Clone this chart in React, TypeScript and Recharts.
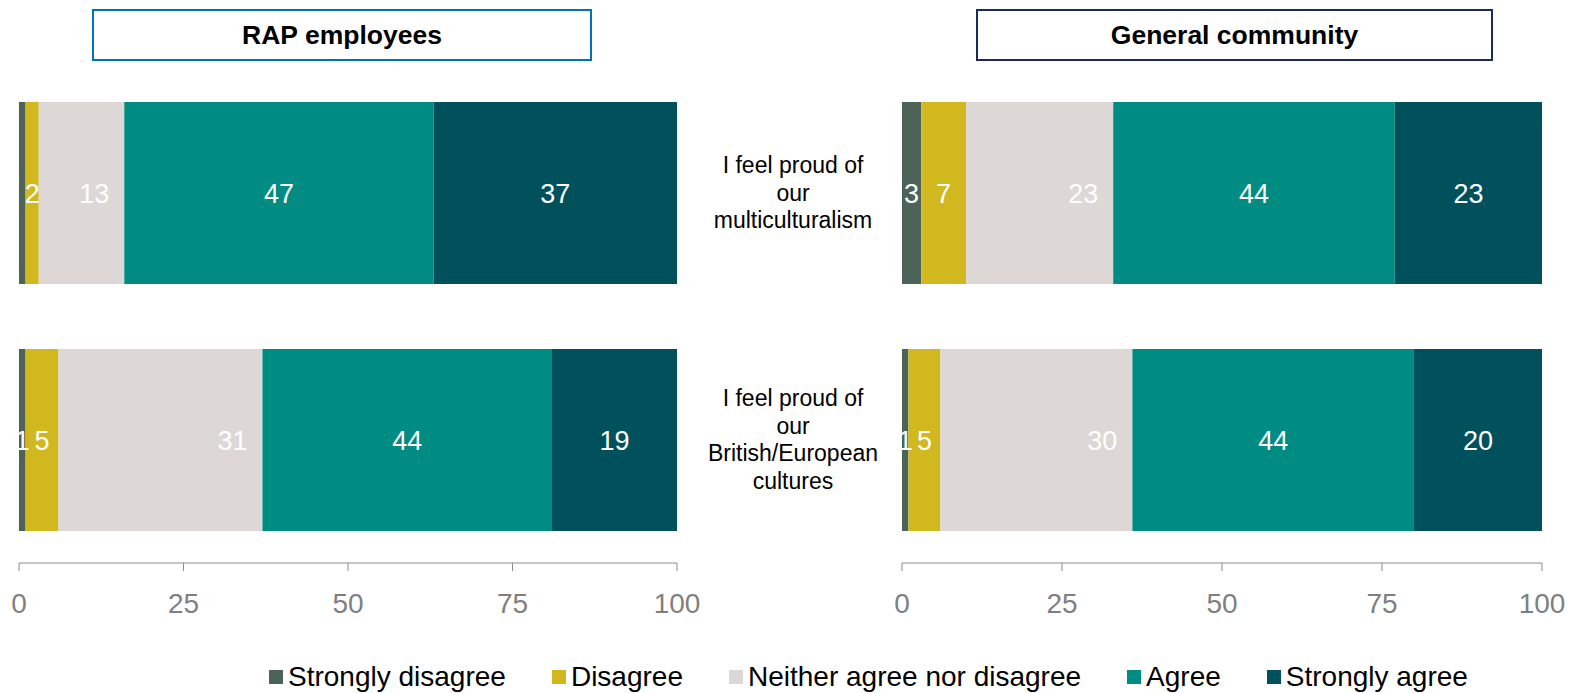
import React from 'react';
import { BarChart, Bar, XAxis, YAxis, LabelList } from 'recharts';

// Survey statements (rows) and their wrapped display lines
const questions = ['I feel proud of our multiculturalism', 'I feel proud of our British/European cultures'];
const questionLines = [
    ['I feel proud of', 'our', 'multiculturalism'],
    ['I feel proud of', 'our', 'British/European', 'cultures'],
];

const responses = ['Strongly disagree', 'Disagree', 'Neither agree nor disagree', 'Agree', 'Strongly agree'];
const responseKeys = ['sd', 'd', 'n', 'a', 'sa'];
const responseColors = ['#4D6357', '#D1B81E', '#DDD8D5', '#008C82', '#00515C'];

// RAP employees (%)
const rapStronglyDisagree = [1, 1];
const rapDisagree = [2, 5];
const rapNeither = [13, 31];
const rapAgree = [47, 44];
const rapStronglyAgree = [37, 19];
const rapUnlabelled = [['sd', 0]];

// General community (%)
const genStronglyDisagree = [3, 1];
const genDisagree = [7, 5];
const genNeither = [23, 30];
const genAgree = [44, 44];
const genStronglyAgree = [23, 20];
const genUnlabelled: (string | number)[][] = [];

const xTicks = [0, 25, 50, 75, 100];

const FONT = '"Liberation Sans", Arial, sans-serif';

const buildRows = (series: number[][], unlabelled: (string | number)[][]) =>
    questions.map((q, i) => {
        const row: Record<string, string | number> = { question: q };
        responseKeys.forEach((k, s) => {
            row[k] = series[s][i];
            const hidden = unlabelled.some(([key, idx]) => key === k && idx === i);
            row[k + 'Label'] = hidden ? '' : series[s][i];
        });
        return row;
    });

const rapRows = buildRows([rapStronglyDisagree, rapDisagree, rapNeither, rapAgree, rapStronglyAgree], rapUnlabelled);
const genRows = buildRows([genStronglyDisagree, genDisagree, genNeither, genAgree, genStronglyAgree], genUnlabelled);

const QuestionTick = (props: any) => {
    const { x, y, payload } = props;
    const lines = questionLines[payload.index] ?? [payload.value];
    const lh = 27.5;
    const start = -((lines.length - 1) / 2) * lh;
    const cx = x - 109;
    return (
        <text x={cx} y={y} textAnchor="middle" fontSize={23} fill="#000" fontFamily={FONT}>
            {lines.map((l: string, i: number) => (
                <tspan key={i} x={cx} y={y + start + i * lh} dominantBaseline="central">{l}</tspan>
            ))}
        </text>
    );
};

const series = (
    responseKeys.map((k, i) => (
        <Bar key={k} dataKey={k} name={responses[i]} stackId="s" fill={responseColors[i]} barSize={182} isAnimationActive={false}>
            <LabelList
                dataKey={k + 'Label'}
                position={k === 'n' ? 'insideRight' : 'center'}
                offset={k === 'n' ? 15 : 5}
                fill="#fff"
                fontSize={27}
                fontFamily={FONT}
            />
        </Bar>
    ))
);

const xAxisProps = {
    type: 'number' as const,
    domain: [0, 100],
    ticks: xTicks,
    height: 60,
    tickSize: 8,
    tickMargin: 22,
    stroke: '#8C8C8C',
    tick: { fill: '#7F7F7F', fontSize: 28, fontFamily: FONT },
};

const Panel: React.FC<{ title: string; left: number; width: number; border: string }> = ({ title, left, width, border }) => (
    <div
        style={{
            position: 'absolute', left, top: 9, width, height: 52, boxSizing: 'border-box',
            border: `2px solid ${border}`, display: 'flex', alignItems: 'center', justifyContent: 'center',
            fontWeight: 'bold', fontSize: 26.5, fontFamily: FONT, color: '#000',
        }}
    >
        {title}
    </div>
);

export default function App() {
    return (
        <div style={{ position: 'absolute', left: 0, top: 0, width: 1578, height: 693, background: '#fff', fontFamily: FONT }}>
            <Panel title="RAP employees" left={92} width={500} border="#0070C0" />
            <Panel title="General community" left={976} width={517} border="#1B2A5C" />

            <div style={{ position: 'absolute', left: 0, top: 0 }}>
                <BarChart width={700} height={623} data={rapRows} layout="vertical" margin={{ top: 69, right: 23, bottom: 0, left: 19 }}>
                    <XAxis {...xAxisProps} />
                    <YAxis type="category" dataKey="question" hide width={0} />
                    {series}
                </BarChart>
            </div>

            <div style={{ position: 'absolute', left: 680, top: 0 }}>
                <BarChart width={898} height={623} data={genRows} layout="vertical" margin={{ top: 69, right: 36, bottom: 0, left: 0 }}>
                    <XAxis {...xAxisProps} />
                    <YAxis type="category" dataKey="question" width={222} axisLine={false} tickLine={false} tickSize={0} tickMargin={0} tick={<QuestionTick />} />
                    {series}
                </BarChart>
            </div>

            <div style={{ position: 'absolute', left: 269, top: 662, display: 'flex', alignItems: 'center', gap: 46, fontSize: 28, lineHeight: '30px', color: '#000', whiteSpace: 'nowrap' }}>
                {responses.map((r, i) => (
                    <div key={r} style={{ display: 'flex', alignItems: 'center' }}>
                        <span style={{ display: 'inline-block', width: 14, height: 14, background: responseColors[i], marginRight: 5 }} />
                        <span>{r}</span>
                    </div>
                ))}
            </div>
        </div>
    );
}
